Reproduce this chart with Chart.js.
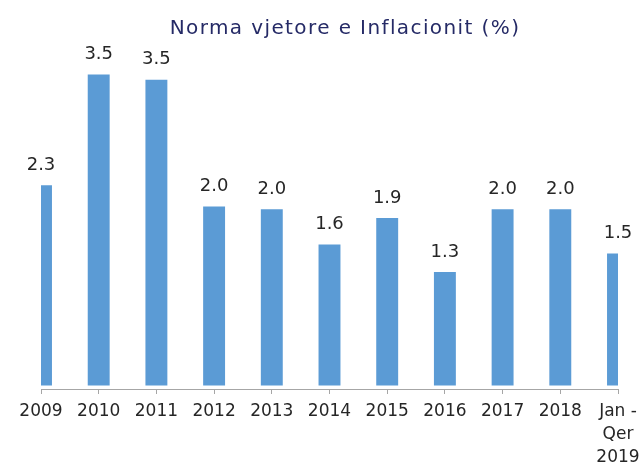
<!DOCTYPE html>
<html>
<head>
<meta charset="utf-8">
<script src="https://cdn.jsdelivr.net/npm/chart.js@4.4.1/dist/chart.umd.min.js"></script>
<style>
html, body { margin: 0; padding: 0; overflow: hidden; background: #ffffff; width: 640px; height: 468px; }
canvas { display: block; }
</style>
</head>
<body>
<canvas id="c" width="649" height="468"></canvas>
<script>
// ---- data ----
const categories = ['2009', '2010', '2011', '2012', '2013', '2014', '2015', '2016', '2017', '2018', ['Jan -', 'Qer', '2019']];
const inflation = [2.26, 3.51, 3.45, 2.02, 1.99, 1.59, 1.89, 1.28, 1.99, 1.99, 1.49];
const titleText = 'Norma vjetore e Inflacionit (%)';
const yMin = -0.04;
const yMax = 3.82;

const valueLabels = {
  id: 'valueLabels',
  afterDatasetsDraw(chart) {
    const ctx = chart.ctx;
    const meta = chart.getDatasetMeta(0);
    ctx.save();
    ctx.font = '18px "DejaVu Sans"';
    ctx.fillStyle = '#262626';
    ctx.textAlign = 'center';
    ctx.textBaseline = 'alphabetic';
    meta.data.forEach((bar, i) => {
      ctx.fillText(inflation[i].toFixed(1), bar.x, bar.y - 15.5);
    });
    ctx.restore();
  }
};

// widen the title's letter spacing like the reference
const titleSpacing = {
  id: 'titleSpacing',
  beforeDraw(chart) {
    const tb = chart.titleBlock;
    if (tb && !tb._spaced) {
      const orig = tb.draw.bind(tb);
      tb.draw = function (area) {
        const ctx = chart.ctx;
        ctx.save();
        ctx.letterSpacing = '1.4px';
        orig(area);
        ctx.restore();
      };
      tb._spaced = true;
    }
  }
};

new Chart(document.getElementById('c'), {
  type: 'bar',
  data: {
    labels: categories,
    datasets: [{
      data: inflation,
      backgroundColor: '#5B9BD5',
      borderWidth: 0,
      categoryPercentage: 0.38,
      barPercentage: 1,
      clip: 0
    }]
  },
  plugins: [valueLabels, titleSpacing],
  options: {
    responsive: false,
    animation: false,
    devicePixelRatio: 1,
    layout: { padding: { left: 41, right: 0, top: 0, bottom: 0 } },
    plugins: {
      legend: { display: false },
      tooltip: { enabled: false },
      title: {
        display: true,
        text: titleText,
        color: '#252A66',
        font: { family: 'DejaVu Sans', size: 20, weight: 'normal' },
        padding: { top: 17, bottom: 6 }
      }
    },
    scales: {
      x: {
        type: 'category',
        offset: false,
        grid: { display: true, drawOnChartArea: false, drawTicks: true, tickLength: 5, color: '#A6A6A6', offset: false },
        border: { display: true, color: '#A6A6A6', width: 1 },
        ticks: {
          color: '#262626',
          font: { family: 'DejaVu Sans', size: 17, lineHeight: 1.35 },
          padding: 6,
          maxRotation: 0,
          minRotation: 0,
          autoSkip: false
        },
        afterFit(s) { s.paddingLeft = 0; s.paddingRight = 0; s.height = 79; }
      },
      y: {
        position: 'right',
        min: yMin,
        max: yMax,
        display: true,
        grid: { display: false },
        border: { display: false },
        ticks: { display: false },
        afterFit(s) { s.width = 31; }
      }
    }
  }
});
</script>
</body>
</html>
